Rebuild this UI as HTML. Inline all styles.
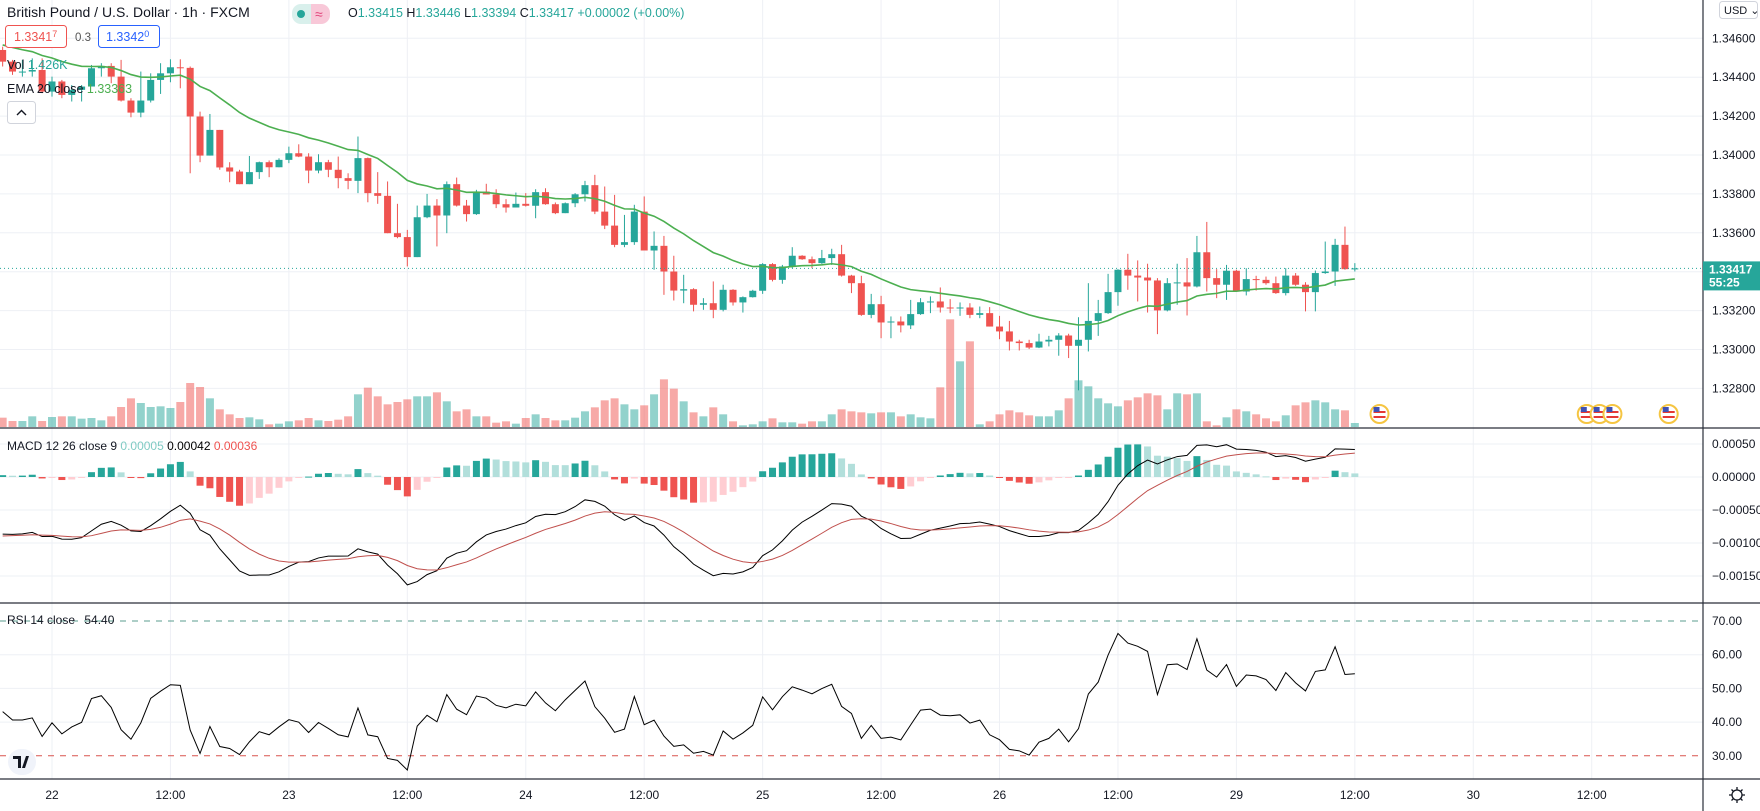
<!DOCTYPE html>
<html><head><meta charset="utf-8">
<style>
html,body{margin:0;padding:0;background:#fff;}
svg{display:block;font-family:"Liberation Sans",sans-serif;}
</style></head>
<body>
<svg id="chart" width="1760" height="811" viewBox="0 0 1760 811" xmlns="http://www.w3.org/2000/svg">
<rect x="0" y="0" width="1760" height="811" fill="#ffffff"/>
<g id="grid"></g>
<g id="vol"></g>
<g id="candles"></g>
<g id="ema"></g>
<g id="macd"></g>
<g id="rsi"></g>
<g id="axes"></g>
<g id="overlay">
  <text x="7" y="17" font-size="14" fill="#131722">British Pound / U.S. Dollar · 1h · FXCM</text>
  <rect x="292" y="4" width="19" height="20" rx="9" fill="#d9f0ec"/>
  <rect x="303" y="4" width="8" height="20" fill="#d9f0ec"/>
  <circle cx="301" cy="14" r="4" fill="#26a69a"/>
  <rect x="311" y="4" width="19" height="20" rx="9" fill="#f8c8d8"/>
  <rect x="311" y="4" width="8" height="20" fill="#f8c8d8"/>
  <text x="315" y="19" font-size="14" fill="#e0457b">≈</text>
  <text x="348" y="17" font-size="12.5" fill="#131722">O<tspan fill="#26a69a">1.33415</tspan> H<tspan fill="#26a69a">1.33446</tspan> L<tspan fill="#26a69a">1.33394</tspan> C<tspan fill="#26a69a">1.33417</tspan> <tspan fill="#26a69a">+0.00002 (+0.00%)</tspan></text>
  <rect x="5.5" y="25.5" width="61" height="22" rx="3" fill="#fff" stroke="#ef5350"/>
  <text x="14" y="41" font-size="12.5" fill="#ef5350">1.3341<tspan font-size="9" dy="-4">7</tspan></text>
  <text x="75" y="41" font-size="11.5" fill="#555">0.3</text>
  <rect x="98.5" y="25.5" width="61" height="22" rx="3" fill="#fff" stroke="#2962ff"/>
  <text x="106" y="41" font-size="12.5" fill="#2962ff">1.3342<tspan font-size="9" dy="-4">0</tspan></text>
  <text x="7" y="69" font-size="12.5" fill="#131722">Vol <tspan fill="#26a69a">1.426K</tspan></text>
  <text x="7" y="93" font-size="12.5" fill="#131722">EMA 20 close <tspan fill="#4caf50">1.33363</tspan></text>
  <rect x="7.5" y="101.5" width="28" height="22" rx="3" fill="#fff" stroke="#d1d4dc"/>
  <path d="M17 115 L21.5 110.5 L26 115" fill="none" stroke="#131722" stroke-width="1.4"/>
  <text x="7" y="450" font-size="12" fill="#131722">MACD 12 26 close 9 <tspan fill="#80cbc4">0.00005</tspan> <tspan fill="#000">0.00042</tspan> <tspan fill="#ef5350">0.00036</tspan></text>
  <text x="7" y="624" font-size="12" fill="#131722">RSI 14 close <tspan fill="#131722" dx="6">54.40</tspan></text>
  <g>
    <rect x="8" y="749" width="28" height="26" rx="13" fill="#f0f3fa"/>
    <path d="M13 756 h8 v12 h-3 v-9 h-5 z M22 768 l4 -12 h3 l-4 12 z" fill="#131722"/>
  </g>
  <rect x="1719.5" y="1.5" width="38" height="17" rx="3" fill="#fff" stroke="#d1d4dc"/>
  <text x="1724" y="14" font-size="11" fill="#131722">USD ⌄</text>
  <g>
    <circle cx="1737" cy="795" r="5" fill="none" stroke="#131722" stroke-width="1.3"/>
    <path d="M1737 787 v3 M1737 800 v3 M1729 795 h3 M1742 795 h3 M1731.5 789.5 l2 2 M1740.5 798.5 l2 2 M1742.5 789.5 l-2 2 M1733.5 798.5 l-2 2" stroke="#131722" stroke-width="1.3"/>
  </g>
</g>
</svg>
<script>
// ---- data ----
const firstOpen = 1.34540;
const closes = [1.34480,1.34429,1.34429,1.34437,1.34326,1.34378,1.34309,1.34335,1.34352,1.34446,1.34458,1.34403,1.34280,1.34218,1.34280,1.34386,1.34420,1.34451,1.34448,1.34198,1.33997,1.34129,1.33936,1.33915,1.33850,1.33912,1.33963,1.33937,1.33975,1.34009,1.33992,1.33920,1.33963,1.33924,1.33881,1.33867,1.33984,1.33804,1.33790,1.33598,1.33578,1.33475,1.33680,1.33740,1.33689,1.33850,1.33740,1.33696,1.33812,1.33797,1.33747,1.33730,1.33749,1.33739,1.33809,1.33747,1.33701,1.33752,1.33798,1.33845,1.33709,1.33637,1.33538,1.33552,1.33709,1.33509,1.33533,1.33401,1.33303,1.33310,1.33230,1.33238,1.33204,1.33307,1.33242,1.33269,1.33302,1.33439,1.33358,1.33427,1.33482,1.33464,1.33444,1.33470,1.33490,1.33380,1.33341,1.33178,1.33233,1.33139,1.33144,1.33124,1.33182,1.33243,1.33247,1.33216,1.33213,1.33216,1.33178,1.33187,1.33118,1.33093,1.33041,1.33033,1.33010,1.33041,1.33050,1.33072,1.33019,1.33050,1.33147,1.33187,1.33295,1.33410,1.33380,1.33370,1.33355,1.33201,1.33341,1.33345,1.33324,1.33500,1.33367,1.33333,1.33405,1.33298,1.33362,1.33358,1.33341,1.33290,1.33380,1.33333,1.33295,1.33393,1.33401,1.33538,1.33413,1.33417];
const highs = [1.34557,1.34489,1.34489,1.34497,1.34497,1.34403,1.34386,1.34360,1.34360,1.34463,1.34472,1.34472,1.34489,1.34292,1.34429,1.34420,1.34472,1.34492,1.34492,1.34455,1.34223,1.34211,1.34129,1.33963,1.33924,1.33995,1.33966,1.33972,1.33983,1.34043,1.34055,1.34009,1.34004,1.33975,1.33992,1.33906,1.34095,1.33987,1.33912,1.33864,1.33749,1.33615,1.33740,1.33800,1.33773,1.33864,1.33884,1.33769,1.33821,1.33852,1.33824,1.33773,1.33807,1.33804,1.33824,1.33829,1.33756,1.33756,1.33804,1.33867,1.33898,1.33838,1.33795,1.33692,1.33744,1.33787,1.33607,1.33584,1.33482,1.33384,1.33315,1.33264,1.33350,1.33333,1.33310,1.33273,1.33307,1.33444,1.33444,1.33435,1.33526,1.33485,1.33478,1.33512,1.33518,1.33538,1.33384,1.33379,1.33286,1.33276,1.33170,1.33170,1.33255,1.33264,1.33273,1.33319,1.33259,1.33242,1.33238,1.33221,1.33218,1.33173,1.33147,1.33050,1.33050,1.33081,1.33070,1.33084,1.33081,1.33166,1.33341,1.33255,1.33389,1.33413,1.33492,1.33458,1.33441,1.33367,1.33367,1.33441,1.33470,1.33584,1.33656,1.33413,1.33435,1.33410,1.33418,1.33379,1.33375,1.33375,1.33418,1.33393,1.33346,1.33406,1.33555,1.33569,1.33632,1.33444];
const lows = [1.34455,1.34412,1.34403,1.34403,1.34318,1.34300,1.34292,1.34275,1.34275,1.34395,1.34403,1.34369,1.34275,1.34194,1.34194,1.34270,1.34314,1.34374,1.34343,1.33906,1.33963,1.33997,1.33924,1.33860,1.33850,1.33850,1.33877,1.33886,1.33937,1.33958,1.33989,1.33855,1.33906,1.33886,1.33829,1.33824,1.33804,1.33757,1.33749,1.33598,1.33572,1.33427,1.33475,1.33675,1.33530,1.33598,1.33735,1.33658,1.33692,1.33797,1.33727,1.33704,1.33732,1.33735,1.33675,1.33744,1.33696,1.33701,1.33732,1.33761,1.33696,1.33619,1.33526,1.33526,1.33538,1.33509,1.33410,1.33281,1.33252,1.33238,1.33196,1.33204,1.33161,1.33196,1.33226,1.33190,1.33267,1.33286,1.33350,1.33338,1.33418,1.33461,1.33418,1.33440,1.33435,1.33375,1.33290,1.33173,1.33161,1.33058,1.33058,1.33088,1.33105,1.33178,1.33187,1.33190,1.33187,1.33173,1.33161,1.33161,1.33118,1.33053,1.32995,1.32995,1.33002,1.33007,1.33016,1.32968,1.32956,1.32790,1.32990,1.33070,1.33183,1.33225,1.33307,1.33247,1.33190,1.33079,1.33196,1.33230,1.33175,1.33319,1.33298,1.33264,1.33255,1.33298,1.33278,1.33303,1.33333,1.33286,1.33278,1.33327,1.33196,1.33196,1.33389,1.33327,1.33410,1.33401];
const volumes = [28,18,18,32,18,30,32,32,25,27,20,32,60,86,72,60,62,57,75,132,120,86,53,38,27,29,23,8,10,17,20,27,20,18,22,32,98,118,92,68,75,83,92,92,104,77,47,53,32,32,13,17,10,27,38,27,20,20,28,47,59,80,86,68,53,65,98,143,115,77,44,32,59,38,17,5,8,17,26,14,14,10,17,17,38,53,47,44,41,44,44,32,38,29,26,119,323,197,257,8,17,38,50,44,35,32,32,50,86,140,122,86,71,62,80,89,101,95,53,101,98,101,17,5,29,53,47,38,26,17,35,65,74,80,74,53,50,12];
const emaSeed = 1.34575;
const macdSeeds = [1.34520, 1.34610, -0.00090]; // ema12, ema26, signal
const rsiSeeds = [0.00030, 0.00035]; // avg gain, avg loss
const priceTicks = [1.346,1.344,1.342,1.340,1.338,1.336,1.332,1.330,1.328];
const macdTicks = [0.0005,0,-0.0005,-0.001,-0.0015];
const macdTickLabels = ['0.00050','0.00000','\u22120.00050','\u22120.00100','\u22120.00150'];
const rsiTicks = [70,60,50,40,30];
const timeLabels = ['22','12:00','23','12:00','24','12:00','25','12:00','26','12:00','29','12:00','30','12:00'];
const flagHours = [134.5,155.5,156.8,158.1,163.8];
const lastPrice = 1.33417;
const countdown = '55:25';

// ---- axes ----
const NS='http://www.w3.org/2000/svg';
const startHour = -5;
const xOf = i => 52 + (i + startHour) * 9.87;
const xHour = h => 52 + h * 9.87;
const yP = p => 38.3 + (1.346 - p) / 0.002 * 38.9;
const yV = v => 427 - v / 3;
const yM = m => 477 - m / 0.001 * 66;
const yR = r => 621 + (70 - r) * 3.37;
const PLOT_R = 1703;

function mk(tag, attrs, parent){const e=document.createElementNS(NS,tag);for(const k in attrs)e.setAttribute(k,attrs[k]);parent.appendChild(e);return e;}
const G=id=>document.getElementById(id);

// grid
const grid=G('grid');
priceTicks.concat([1.334]).forEach(p=>{const l=mk('line',{x1:0,x2:PLOT_R,y1:yP(p),y2:yP(p),stroke:'#eef0f5'},grid);

});
macdTicks.forEach(m=>{const l=mk('line',{x1:0,x2:PLOT_R,y1:yM(m),y2:yM(m),stroke:'#eef0f5'},grid);

});
[60,50,40].forEach(r=>{const l=mk('line',{x1:0,x2:PLOT_R,y1:yR(r),y2:yR(r),stroke:'#eef0f5'},grid);

});
timeLabels.forEach((t,k)=>{const x=xHour(k*12);const l=mk('line',{x1:x,x2:x,y1:0,y2:779,stroke:'#eef0f5'},grid);

});

// candles + volume
const opens = closes.map((c,i)=> i===0 ? firstOpen : closes[i-1]);
const cg=G('candles'), vg=G('vol');
closes.forEach((c,i)=>{
  const o=opens[i], up=c>=o, col=up?'#26a69a':'#ef5350', x=xOf(i);
  const v=mk('rect',{x:x-4,y:yV(volumes[i]),width:8,height:427-yV(volumes[i]),fill:up?'rgba(38,166,154,0.5)':'rgba(239,83,80,0.5)'},vg);
  
  
  const w=mk('line',{x1:x,x2:x,y1:yP(highs[i]),y2:yP(lows[i]),stroke:col,'stroke-width':1},cg);
  
  
  const top=yP(Math.max(o,c)), bh=Math.max(1,yP(Math.min(o,c))-top);
  const b=mk('rect',{x:x-3.5,y:top,width:7,height:bh,fill:col},cg);
  
  
});

// EMA 20
let e=emaSeed; const ema=closes.map(c=>(e=e+(c-e)*2/21));
const ep=mk('polyline',{points:ema.map((v,i)=>xOf(i)+','+yP(v)).join(' '),fill:'none',stroke:'#4caf50','stroke-width':1.6},G('ema'));



// current price line
const pl=mk('line',{x1:0,x2:PLOT_R,y1:yP(lastPrice),y2:yP(lastPrice),stroke:'#26a69a','stroke-dasharray':'1 3'},G('ema'));



// flags
flagHours.forEach(h=>{const g=mk('g',{},G('ema'));


const x=xHour(h);
mk('circle',{cx:x,cy:414,r:9,fill:'#fff',stroke:'#f5c542','stroke-width':2},g);
mk('rect',{x:x-6,y:411,width:12,height:2,fill:'#e53935'},g);
mk('rect',{x:x-6,y:416,width:12,height:2,fill:'#e53935'},g);
mk('rect',{x:x-6,y:407,width:6,height:5,fill:'#3f51b5'},g);});

// MACD
let e12=macdSeeds[0], e26=macdSeeds[1], sig=macdSeeds[2];
const macd=[], signal=[];
closes.forEach(c=>{e12+= (c-e12)*2/13; e26+=(c-e26)*2/27; const m=e12-e26; sig+=(m-sig)*2/10; macd.push(m); signal.push(sig);});
const mg=G('macd');
macd.forEach((m,i)=>{const hv=m-signal[i], prev=i?macd[i-1]-signal[i-1]:hv;
  let col = hv>=0 ? (hv>=prev?'#26a69a':'#b2dfdb') : (hv<=prev?'#ef5350':'#ffcdd2');
  const y0=yM(0), y1=yM(hv);
  const r=mk('rect',{x:xOf(i)-3.5,y:Math.min(y0,y1),width:7,height:Math.max(1,Math.abs(y1-y0)),fill:col},mg);
  
  });
const ml=mk('polyline',{points:macd.map((v,i)=>xOf(i)+','+yM(v)).join(' '),fill:'none',stroke:'#000','stroke-width':1},mg);


const sl=mk('polyline',{points:signal.map((v,i)=>xOf(i)+','+yM(v)).join(' '),fill:'none',stroke:'#c0504d','stroke-width':1},mg);



// RSI
let ag=rsiSeeds[0], al=rsiSeeds[1]; const rsi=[];
closes.forEach((c,i)=>{const d=c-opens[i]; ag=(ag*13+Math.max(d,0))/14; al=(al*13+Math.max(-d,0))/14; rsi.push(100-100/(1+ag/al));});
const rg=G('rsi');
const d70=mk('line',{x1:0,x2:PLOT_R,y1:yR(70),y2:yR(70),stroke:'#5b9c8f','stroke-dasharray':'6 6'},rg);


const d30=mk('line',{x1:0,x2:PLOT_R,y1:yR(30),y2:yR(30),stroke:'#d9534f','stroke-dasharray':'6 6'},rg);


const rl=mk('polyline',{points:rsi.map((v,i)=>xOf(i)+','+yR(v)).join(' '),fill:'none',stroke:'#000','stroke-width':1},rg);



// axes
const ax=G('axes');
[428,603,779].forEach(y=>{const l=mk('line',{x1:0,x2:1760,y1:y,y2:y,stroke:'#2a2e39','stroke-width':1.2},ax);

});
const va=mk('line',{x1:PLOT_R,x2:PLOT_R,y1:0,y2:811,stroke:'#2a2e39','stroke-width':1.2},ax);


priceTicks.forEach(p=>{const t=mk('text',{x:1712,y:yP(p)+4,'font-size':12,fill:'#131722'},ax);t.textContent=p.toFixed(5);

});
macdTicks.forEach((m,k)=>{const t=mk('text',{x:1712,y:yM(m)+4,'font-size':12,fill:'#131722'},ax);t.textContent=macdTickLabels[k];

});
rsiTicks.forEach(r=>{const t=mk('text',{x:1712,y:yR(r)+4,'font-size':12,fill:'#131722'},ax);t.textContent=r.toFixed(2);

});
timeLabels.forEach((s,k)=>{const t=mk('text',{x:xHour(k*12),y:799,'font-size':12,fill:'#131722','text-anchor':'middle'},ax);t.textContent=s;

});
const lb=mk('rect',{x:PLOT_R,y:yP(lastPrice)-7,width:57,height:29,fill:'#26a69a'},ax);


const lt=mk('text',{x:1709,y:yP(lastPrice)+5,'font-size':12,'font-weight':'bold',fill:'#fff'},ax);lt.textContent=lastPrice.toFixed(5);


const ct=mk('text',{x:1709,y:yP(lastPrice)+18,'font-size':12,'font-weight':'bold',fill:'#fff'},ax);ct.textContent=countdown;


</script>
</body></html>
